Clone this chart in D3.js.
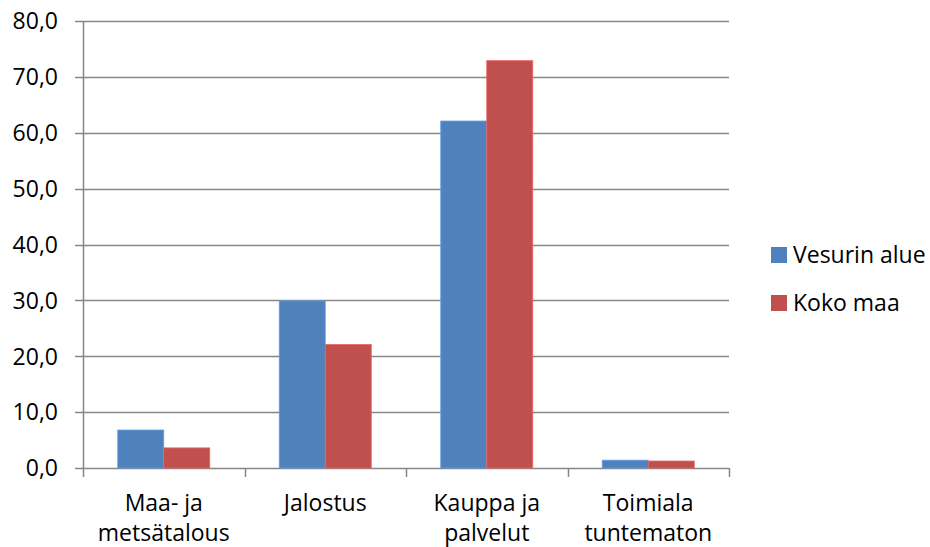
<!DOCTYPE html>
<html>
<head>
<meta charset="utf-8">
<script src="https://cdn.jsdelivr.net/npm/d3@7"></script>
<style>
  body { margin: 0; background: #fff; }
  text { font-family: "Open Sans", sans-serif; fill: #000; }
</style>
</head>
<body>
<div id="chart"></div>
<script>
"use strict";

// categories (each label split into lines)
const categories = [["Maa- ja", "metsätalous"], ["Jalostus"], ["Kauppa ja", "palvelut"], ["Toimiala", "tuntematon"]];
const seriesNames = ["Vesurin alue", "Koko maa"];
const vesurinAlue = [6.8, 29.9, 62.1, 1.4];
const kokoMaa = [3.6, 22.1, 72.9, 1.25];
const yTicks = [0, 10, 20, 30, 40, 50, 60, 70, 80];
const colors = ["#4F81BD", "#C0504D"];

function draw() {
    const width = 930, height = 547;
    const margin = { left: 83, right: 201, top: 21, bottom: 79 };

    const svg = d3.select("#chart").append("svg")
        .attr("width", width)
        .attr("height", height);

    const x = d3.scaleBand()
        .domain(d3.range(categories.length))
        .range([margin.left, width - margin.right]);
    const x1 = d3.scaleBand()
        .domain(d3.range(seriesNames.length))
        .range([0, x.bandwidth()])
        .paddingOuter(0.755)
        .paddingInner(0);
    const y = d3.scaleLinear()
        .domain([0, 80])
        .range([height - margin.bottom, margin.top]);

    // grid lines (with little tick stubs on the left)
    svg.append("g")
        .selectAll("line")
        .data(yTicks)
        .join("line")
        .attr("x1", margin.left - 8)
        .attr("x2", width - margin.right)
        .attr("y1", d => Math.round(y(d)) + 0.5)
        .attr("y2", d => Math.round(y(d)) + 0.5)
        .attr("stroke", "#868686")
        .attr("stroke-width", 1.5);

    // y labels
    svg.append("g")
        .selectAll("text")
        .data(yTicks)
        .join("text")
        .attr("x", 58)
        .attr("y", d => y(d))
        .attr("dy", "0.36em")
        .attr("text-anchor", "end")
        .style("font-size", "23px")
        .text(d => d3.format(".1f")(d).replace(".", ","));

    // bars
    const series = [vesurinAlue, kokoMaa];
    series.forEach((vals, s) => {
        svg.append("g")
            .selectAll("rect")
            .data(vals)
            .join("rect")
            .attr("x", (d, i) => x(i) + x1(s))
            .attr("y", d => y(d))
            .attr("width", x1.bandwidth())
            .attr("height", d => y(0) - y(d))
            .attr("fill", colors[s])
            .attr("stroke", d3.color(colors[s]).brighter(0.6))
            .attr("stroke-width", 0.8);
    });

    // y axis line
    svg.append("line")
        .attr("x1", margin.left + 0.5).attr("x2", margin.left + 0.5)
        .attr("y1", margin.top).attr("y2", y(0) + 9)
        .attr("stroke", "#868686").attr("stroke-width", 1.5);

    // category tick marks
    const bounds = d3.range(categories.length + 1).map(i => i < categories.length ? x(i) : x(i - 1) + x.bandwidth());
    svg.append("g")
        .selectAll("line")
        .data(bounds.slice(1))
        .join("line")
        .attr("x1", d => Math.round(d) + 0.5)
        .attr("x2", d => Math.round(d) + 0.5)
        .attr("y1", y(0))
        .attr("y2", y(0) + 9)
        .attr("stroke", "#868686")
        .attr("stroke-width", 1.5);

    // category labels
    svg.append("g")
        .selectAll("text")
        .data(categories)
        .join("text")
        .attr("text-anchor", "middle")
        .style("font-size", "23px")
        .attr("transform", (d, i) => `translate(${x(i) + x.bandwidth() / 2},${y(0) + 43})`)
        .selectAll("tspan")
        .data(d => d)
        .join("tspan")
        .attr("x", 0)
        .attr("y", (d, j) => j * 30)
        .text(d => d);

    // legend
    const legend = svg.append("g")
        .selectAll("g")
        .data(seriesNames)
        .join("g")
        .attr("transform", (d, i) => `translate(771,${247 + i * 48})`);
    legend.append("rect")
        .attr("width", 16)
        .attr("height", 16)
        .attr("fill", (d, i) => colors[i]);
    legend.append("text")
        .attr("x", 22)
        .attr("y", 8)
        .attr("dy", "0.36em")
        .style("font-size", "23px")
        .text(d => d);
}

draw();
</script>
</body>
</html>
